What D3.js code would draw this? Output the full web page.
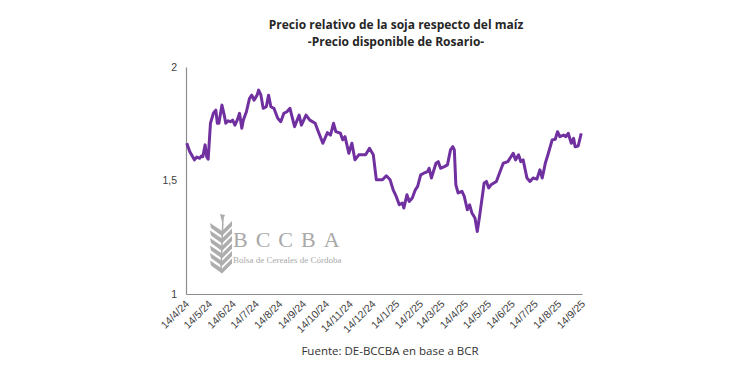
<!DOCTYPE html>
<html>
<head>
<meta charset="utf-8">
<script src="https://cdn.jsdelivr.net/npm/d3@7/dist/d3.min.js"></script>
<style>
  body { margin: 0; background: #fff; }
  svg { display: block; font-family: "Open Sans", "Liberation Sans", sans-serif; }
  .axis path.domain { stroke: #8c8c8c; stroke-width: 1.2; }
  .axis text { fill: #404040; }
</style>
</head>
<body>
<div id="chart"></div>
<script>
// Relative price soy / maize, Rosario spot
const dates = [
  "2024-04-15","2024-04-19","2024-04-25","2024-04-28","2024-05-02","2024-05-04","2024-05-06","2024-05-09","2024-05-11","2024-05-13",
  "2024-05-16","2024-05-20","2024-05-23","2024-05-25","2024-05-27","2024-05-31","2024-06-03","2024-06-05","2024-06-08","2024-06-11",
  "2024-06-14","2024-06-17","2024-06-20","2024-06-23","2024-06-26","2024-06-28","2024-07-02","2024-07-06","2024-07-09","2024-07-12",
  "2024-07-16","2024-07-18","2024-07-21","2024-07-24","2024-07-28","2024-07-31","2024-08-03","2024-08-07","2024-08-12","2024-08-16",
  "2024-08-20","2024-08-24","2024-08-28","2024-09-03","2024-09-09","2024-09-12","2024-09-18","2024-09-23","2024-09-30","2024-10-03",
  "2024-10-10","2024-10-16","2024-10-20","2024-10-24","2024-10-27","2024-11-02","2024-11-05","2024-11-08","2024-11-13","2024-11-17",
  "2024-11-21","2024-11-26","2024-12-05","2024-12-10","2024-12-15","2024-12-19","2024-12-27","2025-01-01","2025-01-06","2025-01-10",
  "2025-01-14","2025-01-18","2025-01-22","2025-01-24","2025-01-28","2025-01-31","2025-02-04","2025-02-08","2025-02-11","2025-02-15",
  "2025-02-19","2025-02-24","2025-02-26","2025-03-01","2025-03-07","2025-03-10","2025-03-13","2025-03-18","2025-03-22","2025-03-26",
  "2025-03-29","2025-03-31","2025-04-02","2025-04-05","2025-04-10","2025-04-13","2025-04-17","2025-04-20","2025-04-23","2025-04-27",
  "2025-04-30","2025-05-03","2025-05-09","2025-05-12","2025-05-15","2025-05-18","2025-05-25","2025-05-29","2025-06-03","2025-06-09",
  "2025-06-16","2025-06-19","2025-06-23","2025-06-26","2025-06-29","2025-07-04","2025-07-08","2025-07-12","2025-07-17","2025-07-21",
  "2025-07-24","2025-07-28","2025-08-01","2025-08-06","2025-08-10","2025-08-13","2025-08-16","2025-08-21","2025-08-24","2025-08-27",
  "2025-08-31","2025-09-03","2025-09-05","2025-09-09","2025-09-13"
];

const ratio = [
  1.664,1.627,1.591,1.603,1.598,1.608,1.605,1.657,1.605,1.594,
  1.752,1.798,1.810,1.752,1.752,1.832,1.788,1.752,1.763,1.759,
  1.766,1.744,1.766,1.796,1.730,1.766,1.803,1.861,1.876,1.854,
  1.876,1.898,1.876,1.818,1.825,1.876,1.825,1.818,1.774,1.759,
  1.796,1.803,1.818,1.737,1.788,1.744,1.788,1.766,1.752,1.725,
  1.664,1.711,1.700,1.752,1.715,1.708,1.679,1.693,1.620,1.664,
  1.591,1.613,1.613,1.642,1.613,1.503,1.503,1.521,1.503,1.459,
  1.430,1.393,1.401,1.379,1.437,1.408,1.423,1.459,1.474,1.525,
  1.532,1.539,1.554,1.511,1.576,1.583,1.554,1.561,1.569,1.635,
  1.649,1.635,1.481,1.445,1.452,1.430,1.371,1.393,1.357,1.335,
  1.275,1.342,1.489,1.496,1.467,1.481,1.496,1.532,1.576,1.583,
  1.620,1.591,1.613,1.583,1.591,1.511,1.496,1.511,1.506,1.547,
  1.511,1.576,1.620,1.679,1.682,1.715,1.693,1.700,1.693,1.708,
  1.664,1.686,1.649,1.652,1.708
];

const tickDates = [
  "2024-04-14","2024-05-14","2024-06-14","2024-07-14","2024-08-14","2024-09-14",
  "2024-10-14","2024-11-14","2024-12-14","2025-01-14","2025-02-14","2025-03-14",
  "2025-04-14","2025-05-14","2025-06-14","2025-07-14","2025-08-14","2025-09-14"
];
const yTicks = [1, 1.5, 2];

const titleLines = ["Precio relativo de la soja respecto del maíz", "-Precio disponible de Rosario-"];
const sourceText = "Fuente: DE-BCCBA en base a BCR";

const W = 750, H = 375;
const margin = { top: 67, right: 168, bottom: 81, left: 186 };
const width = W - margin.left - margin.right;
const height = H - margin.top - margin.bottom;

const parse = d3.timeParse("%Y-%m-%d");
const data = dates.map((d, i) => ({ date: parse(d), value: ratio[i] }));
const ticks = tickDates.map(parse);

const svg = d3.select("#chart").append("svg")
  .attr("width", W)
  .attr("height", H);

// titles
svg.selectAll(".title")
  .data(titleLines)
  .enter().append("text")
  .attr("class", "title")
  .attr("x", 396)
  .attr("y", (d, i) => 29 + i * 17)
  .attr("text-anchor", "middle")
  .style("font-size", "12px")
  .style("font-weight", "bold")
  .style("fill", "#262626")
  .text(d => d);

svg.append("text")
  .attr("x", 390)
  .attr("y", 355)
  .attr("text-anchor", "middle")
  .style("font-size", "11.5px")
  .style("fill", "#333")
  .text(sourceText);

const g = svg.append("g")
  .attr("transform", `translate(${margin.left},${margin.top})`);

// watermark logo (wheat ear + name)
const logo = g.append("g").attr("transform", "translate(23,151)").style("fill", "#adadad");
logo.append("path")
  .attr("d", "M12,52 L14,0")
  .attr("stroke", "#adadad").attr("stroke-width", 1.5);
d3.range(6).forEach(i => {
  const yy = 8 + i * 7.5;
  logo.append("path")
    .attr("d", `M13,${yy + 5} L1,${yy - 3} L2,${yy + 2} L13,${yy + 10} Z`);
  logo.append("path")
    .attr("d", `M13,${yy + 5} L23,${yy - 5} L23,${yy} L13,${yy + 10} Z`);
});
logo.append("path").attr("d", "M13,4 L11,-4 L16,-3 Z");

g.append("text")
  .attr("x", 47).attr("y", 180)
  .style("font-family", "'Liberation Serif', 'DejaVu Serif', serif")
  .style("font-size", "22px")
  .style("letter-spacing", "8px")
  .style("fill", "#a9a9a9")
  .text("BCCBA");
g.append("text")
  .attr("x", 47).attr("y", 196)
  .style("font-family", "'Liberation Serif', 'DejaVu Serif', serif")
  .style("font-size", "9px")
  .style("fill", "#a9a9a9")
  .text("Bolsa de Cereales de Córdoba");

// scales
const x = d3.scaleTime()
  .domain([ticks[0], ticks[ticks.length - 1]])
  .range([0, width]);
const y = d3.scaleLinear()
  .domain([1, 2])
  .range([height, 0]);

// axes
g.append("g")
  .attr("class", "axis")
  .attr("transform", `translate(0,${height})`)
  .call(d3.axisBottom(x).tickValues(ticks).tickSize(0).tickFormat(d3.timeFormat("%-d/%-m/%y")))
  .call(s => s.selectAll("text")
    .attr("x", -5)
    .attr("y", 2)
    .attr("dy", "0.75em")
    .attr("transform", "rotate(-45)")
    .style("text-anchor", "end")
    .style("font-size", "10.5px"));

g.append("g")
  .attr("class", "axis")
  .call(d3.axisLeft(y).tickValues(yTicks).tickSize(0).tickPadding(9)
    .tickFormat(d => String(d).replace(".", ",")))
  .call(s => s.selectAll("text").style("font-size", "10.5px"));

// line
const line = d3.line()
  .x(d => x(d.date))
  .y(d => y(d.value));

g.append("path")
  .datum(data)
  .attr("fill", "none")
  .attr("stroke", "#7030A0")
  .attr("stroke-width", 3)
  .attr("stroke-linejoin", "round")
  .attr("d", line);
</script>
</body>
</html>
